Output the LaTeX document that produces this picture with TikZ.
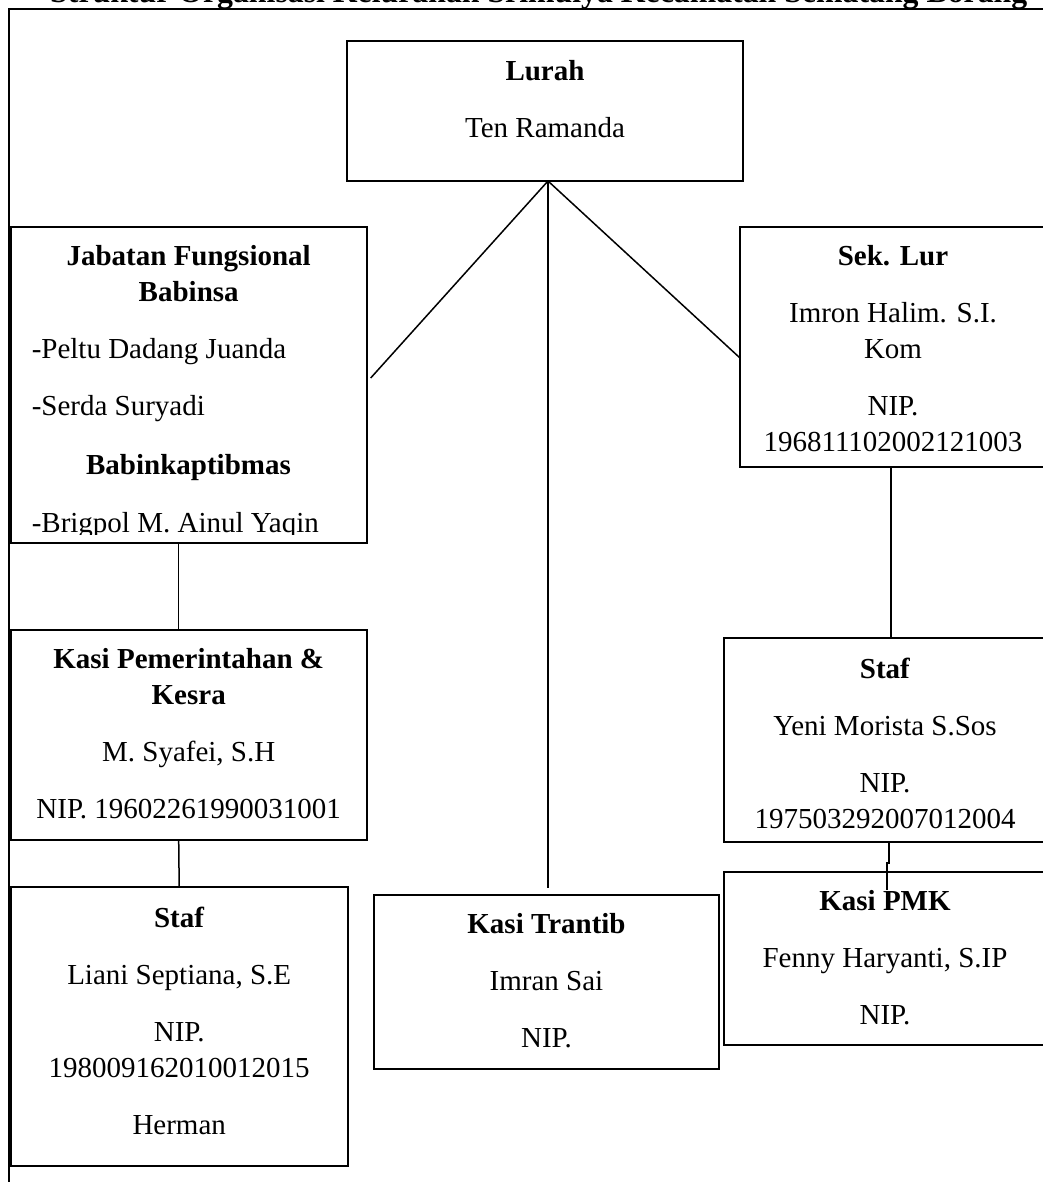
\documentclass[tikz,border=0pt]{standalone}
\usepackage{fontspec}
\setmainfont{Liberation Serif}
\usetikzlibrary{positioning}

\begin{document}
\begin{tikzpicture}[x=1pt, y=-1pt, line width=1.5pt,
  font=\fontsize{29}{36}\selectfont,
  kotak/.style = {draw, line width=2pt, anchor=north west,
    inner sep=0pt, outer sep=0pt},
  isi/.style = {align=center, inner sep=0pt, anchor=north}]

  \useasboundingbox (0,0) rectangle (1042,1182);
  % judul, terpotong di tepi atas
  \node[anchor=base east, inner sep=0pt, font=\fontsize{31.8}{36}\selectfont]
    (judul) at (1028,3)
    {\textbf{Struktur Organisasi Kelurahan Srimulya Kecamatan Sematang Borang}};
  \draw[line width=2pt] (1050,9) -- (9,9) -- (9,1190);

  % kotak-kotak jabatan
  \node[kotak, minimum width=396pt, minimum height=140pt] (lurah) at (347,41) {};
  \node[kotak, minimum width=356pt, minimum height=316pt] (jabatan) at (10.7,227) {};
  \node[kotak, minimum width=306pt, minimum height=240pt] (sekLur) at (740,227) {};
  \node[kotak, minimum width=356pt, minimum height=210pt] (kasiPem) at (10.7,630) {};
  \node[kotak, minimum width=337pt, minimum height=279pt] (stafKiri) at (10.7,887) {};
  \node[kotak, minimum width=345pt, minimum height=174pt] (trantib) at (374,895) {};
  \node[kotak, minimum width=322pt, minimum height=204pt] (stafKanan) at (724,638) {};
  \node[kotak, minimum width=322pt, minimum height=173pt] (kasiPMK) at (724,872) {};

  % isi kotak
  \node[isi, below=19pt of lurah.north] {\textbf{Lurah}\\[21pt]Ten Ramanda};
  \node[isi, below=18pt of jabatan.north]
    {\textbf{Jabatan Fungsional}\\\textbf{Babinsa}};
  \node[isi, anchor=north west, align=left] at (31,338)
    {-Peltu Dadang Juanda\\[21pt]-Serda Suryadi};
  \node[anchor=base, inner sep=0pt] at (188.5,474) {\textbf{Babinkaptibmas}};
  \begin{scope}
    \clip (jabatan.north west) rectangle ([yshift=9pt]jabatan.south east);
    \node[anchor=base west, inner sep=0pt] at (31,532) {-Brigpol M. Ainul Yaqin};
  \end{scope}
  \node[isi, below=18pt of sekLur.north]
    {\textbf{Sek. Lur}\\[21pt]Imron Halim. S.I.\\Kom\\[21pt]NIP.\\196811102002121003};
  \node[isi, below=18pt of kasiPem.north]
    {\textbf{Kasi Pemerintahan \&}\\\textbf{Kesra}\\[21pt]M. Syafei, S.H\\[21pt]NIP. 19602261990031001};
  \node[isi, below=19pt of stafKiri.north]
    {\textbf{Staf}\\[21pt]Liani Septiana, S.E\\[21pt]NIP.\\198009162010012015\\[21pt]Herman};
  \node[isi, below=18pt of trantib.north]
    {\textbf{Kasi Trantib}\\[21pt]Imran Sai\\[21pt]NIP.};
  \node[isi, below=19pt of stafKanan.north]
    {\textbf{Staf}\\[21pt]Yeni Morista S.Sos\\[21pt]NIP.\\197503292007012004};
  \node[isi, below=18pt of kasiPMK.north]
    {\textbf{Kasi PMK}\\[21pt]Fenny Haryanti, S.IP\\[21pt]NIP.};

  % garis penghubung
  \coordinate (pusat) at ([xshift=3pt]lurah.south);
  \draw (pusat) -- ([shift={(4pt,7pt)}]jabatan.east);
  \draw (pusat) -- ([yshift=-11pt]sekLur.west);
  \draw (pusat) -- ([yshift=7pt]pusat |- trantib.north);
  \draw ([xshift=-10pt]jabatan.south) -- ([xshift=-10pt]kasiPem.north);
  \draw ([xshift=-10pt]kasiPem.south) -- (stafKiri.north);
  \draw ([xshift=-2pt]sekLur.south) -- ([xshift=-2pt]sekLur.south |- stafKanan.north);
  \draw ([xshift=4pt]stafKanan.south) -- ++(0,21) -| ([shift={(2pt,-18pt)}]kasiPMK.north);
\end{tikzpicture}
\end{document}
